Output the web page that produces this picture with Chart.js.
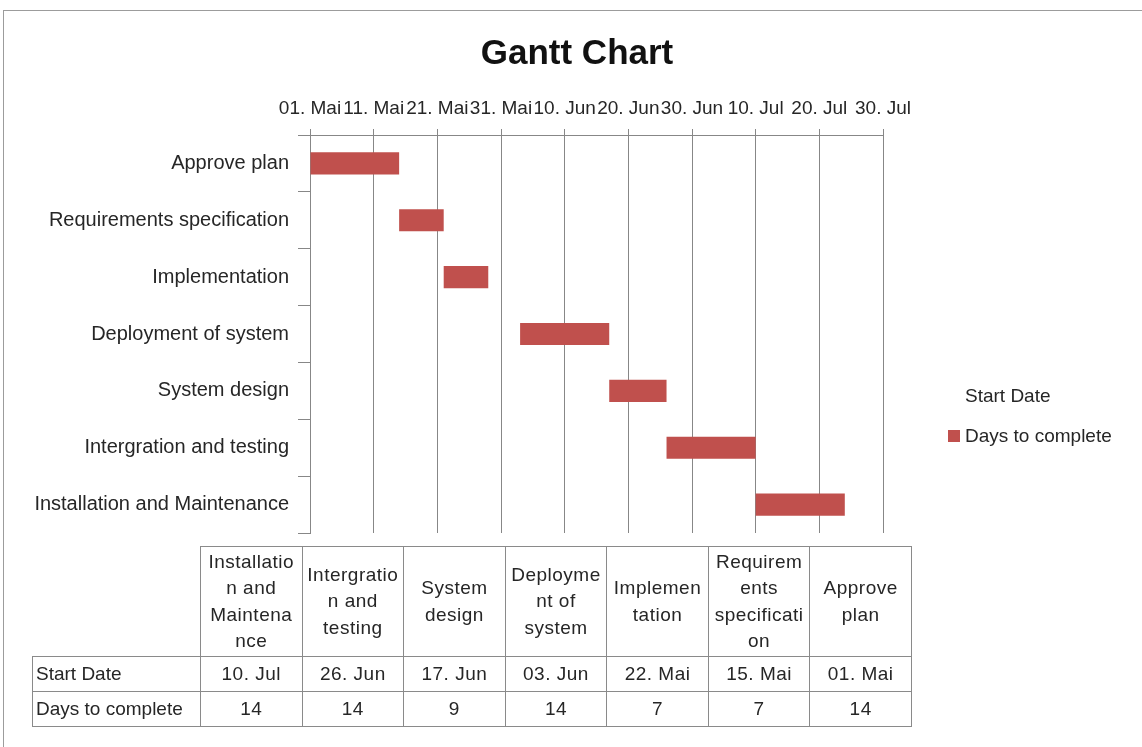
<!DOCTYPE html>
<html>
<head>
<meta charset="utf-8">
<script src="https://cdn.jsdelivr.net/npm/chart.js@4.4.0/dist/chart.umd.min.js"></script>
<style>
  html, body { margin: 0; padding: 0; background: #fff; overflow: hidden; }
  body { width: 1142px; height: 747px; position: relative; font-family: "Liberation Sans", Arial, sans-serif; color: #262626; }
  .frame { position: absolute; left: 3px; top: 10px; width: 1200px; height: 800px; border-left: 1px solid #9c9c9c; border-top: 1px solid #9c9c9c; }
  .title { position: absolute; left: 0; top: 31px; width: 1154px; text-align: center; font-size: 35px; line-height: 42px; font-weight: bold; color: #111; }
  #gantt { position: absolute; left: 0; top: 0; }
  .legend { position: absolute; left: 948px; top: 376px; font-size: 19px; }
  .legend .item { height: 40px; display: flex; align-items: center; }
  .legend .box { width: 12px; height: 12px; margin-right: 5px; }
  table.data { position: absolute; left: 32px; top: 546px; width: 880px; border-collapse: collapse; table-layout: fixed; font-size: 19px; letter-spacing: 0.5px; }
  table.data td { border: 1px solid #8a8a8a; text-align: center; vertical-align: middle; padding: 0 4px; overflow-wrap: anywhere; }
  table.data tr.head td { height: 109px; line-height: 26.5px; }
  table.data tr.row td { height: 34px; }
  table.data td.rowhead { text-align: left; padding-left: 3px; letter-spacing: 0; }
  table.data td.blank { border-top: none; border-left: none; }
</style>
</head>
<body>
<div class="frame"></div>
<canvas id="gantt" width="1142" height="747"></canvas>
<div class="title">Gantt Chart</div>
<div class="legend" id="legend"></div>
<table class="data" id="dataTable">
  <colgroup><col style="width:168px"></colgroup>
</table>
<script>
// data (Excel order: bottom task first)
const tasks = [
  'Installation and Maintenance', 'Intergration and testing', 'System design',
  'Deployment of system', 'Implementation', 'Requirements specification', 'Approve plan'
];
const startDates = ['10. Jul', '26. Jun', '17. Jun', '03. Jun', '22. Mai', '15. Mai', '01. Mai'];
const daysToComplete = [14, 14, 9, 14, 7, 7, 14];
const xTickLabels = [
  '01. Mai', '11. Mai', '21. Mai', '31. Mai', '10. Jun',
  '20. Jun', '30. Jun', '10. Jul', '20. Jul', '30. Jul'
];
const monthStart = { Mai: 0, Jun: 31, Jul: 61 };   // days since 01. Mai

const dayOffset = (s) => {
  const [d, m] = s.split('. ');
  return monthStart[m] + parseInt(d, 10) - 1;
};

const gridColor = '#878787';
const textColor = '#262626';
const fontFamily = '"Liberation Sans", Arial, sans-serif';

const chart = new Chart(document.getElementById('gantt').getContext('2d'), {
  type: 'bar',
  data: {
    labels: tasks,
    datasets: [
      {
        label: 'Start Date',
        data: startDates.map(dayOffset),
        backgroundColor: 'rgba(0,0,0,0)',
        barPercentage: 0.39,
        categoryPercentage: 1
      },
      {
        label: 'Days to complete',
        data: daysToComplete,
        backgroundColor: '#C0504D',
        barPercentage: 0.39,
        categoryPercentage: 1
      }
    ]
  },
  options: {
    responsive: false,
    animation: false,
    indexAxis: 'y',
    layout: { padding: { left: 0, right: 259, top: 0, bottom: 214 } },
    plugins: {
      legend: { display: false },
      tooltip: { enabled: false },
      title: { display: false }
    },
    scales: {
      x: {
        type: 'linear',
        position: 'top',
        stacked: true,
        min: 0,
        max: 90,
        ticks: {
          stepSize: 10,
          autoSkip: false,
          maxRotation: 0,
          minRotation: 0,
          padding: 9,
          color: textColor,
          font: { family: fontFamily, size: 19 },
          callback: (v, i) => xTickLabels[i]
        },
        grid: { color: gridColor, tickLength: 6 },
        border: { color: gridColor },
        afterFit: (s) => { s.height = 135; }
      },
      y: {
        stacked: true,
        reverse: true,
        ticks: { padding: 9, color: textColor, font: { family: fontFamily, size: 20 } },
        grid: { drawOnChartArea: false, tickLength: 12, color: gridColor },
        border: { color: gridColor },
        afterFit: (s) => { s.width = 310; }
      }
    }
  }
});

// legend, like Excel's: series without fill show no swatch
const legendEl = document.getElementById('legend');
chart.data.datasets.forEach(ds => {
  const item = document.createElement('div');
  item.className = 'item';
  item.innerHTML = '<span class="box" style="background:' + ds.backgroundColor + '"></span>' + ds.label;
  legendEl.appendChild(item);
});

// data table under the chart
const table = document.getElementById('dataTable');
let html = '<tr class="head"><td class="blank"></td>' + tasks.map(t => '<td>' + t + '</td>').join('') + '</tr>';
html += '<tr class="row"><td class="rowhead">Start Date</td>' + startDates.map(s => '<td>' + s + '</td>').join('') + '</tr>';
html += '<tr class="row"><td class="rowhead">Days to complete</td>' + daysToComplete.map(d => '<td>' + d + '</td>').join('') + '</tr>';
table.insertAdjacentHTML('beforeend', html);
</script>
</body>
</html>
